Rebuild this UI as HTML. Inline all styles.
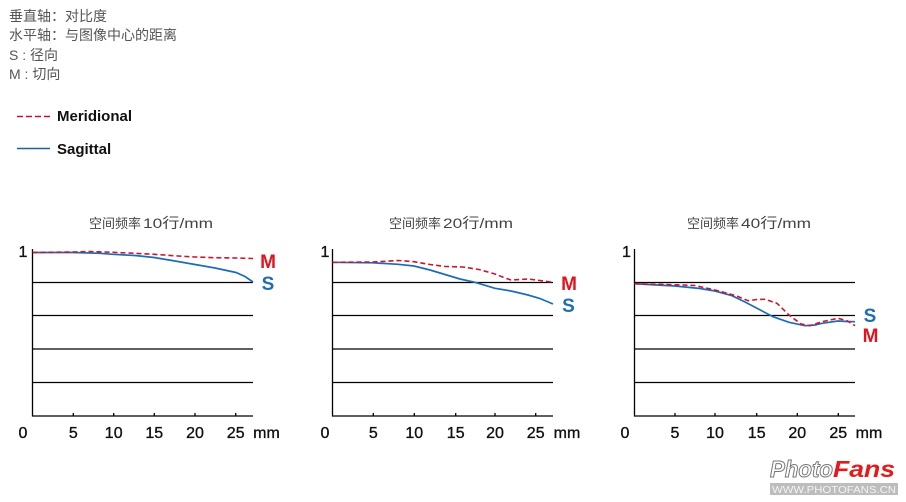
<!DOCTYPE html>
<html><head><meta charset="utf-8"><style>
html,body{margin:0;padding:0;background:#fff;}
svg{display:block;}
.cjk{font-family:"Liberation Sans","Noto Sans CJK SC",sans-serif;}
</style></head><body>
<svg width="906" height="502" viewBox="0 0 906 502" xmlns="http://www.w3.org/2000/svg">
<rect width="906" height="502" fill="#fff"/>
<g class="cjk" font-size="14" fill="#555">
<text x="9" y="21">垂直轴：对比度</text>
<text x="9" y="40">水平轴：与图像中心的距离</text>
<text x="9" y="60">S : 径向</text>
<text x="9" y="79">M : 切向</text>
</g>
<line x1="17" y1="116.5" x2="51" y2="116.5" stroke="#c8102e" stroke-width="1.6" stroke-dasharray="6,3"/>
<text x="57" y="121" font-family="Liberation Sans, sans-serif" font-weight="bold" font-size="15" fill="#111">Meridional</text>
<line x1="17" y1="148.5" x2="50" y2="148.5" stroke="#1a64a4" stroke-width="1.6"/>
<text x="57" y="154" font-family="Liberation Sans, sans-serif" font-weight="bold" font-size="15" fill="#111">Sagittal</text>

<!-- Chart 1 -->
<g>
<text class="cjk" x="89" y="228" font-size="13" fill="#444">空间频率</text>
<text class="cjk" x="143" y="228" font-size="14" fill="#444" textLength="70" lengthAdjust="spacingAndGlyphs">10行/mm</text>
<g stroke="#000" stroke-width="1.3" fill="none">
<line x1="32.5" y1="249" x2="32.5" y2="416.5"/>
<line x1="32" y1="416" x2="253" y2="416"/>
<line x1="32.5" y1="282.5" x2="253" y2="282.5"/>
<line x1="32.5" y1="315.5" x2="253" y2="315.5"/>
<line x1="32.5" y1="349" x2="253" y2="349"/>
<line x1="32.5" y1="382.5" x2="253" y2="382.5"/>
<line x1="73.3" y1="413" x2="73.3" y2="416"/>
<line x1="113.7" y1="413" x2="113.7" y2="416"/>
<line x1="154.3" y1="413" x2="154.3" y2="416"/>
<line x1="195" y1="413" x2="195" y2="416"/>
<line x1="235.7" y1="413" x2="235.7" y2="416"/>
</g>
<polyline fill="none" stroke="#1d6db6" stroke-width="1.7" points="32.5,252.5 73,252.5 100,253.3 113,254.3 135,255.5 154,257.5 175,261 195,264.5 215,268 236,272.5 245,276.5 253,282"/>
<polyline fill="none" stroke="#d0122c" stroke-width="1.6" stroke-dasharray="5,3" points="32.5,252.5 73,252 90,251.5 113,252.3 135,253.3 154,254.3 178,256 195,257 215,257.7 236,258 253,258.5"/>
<g font-family="Liberation Sans, sans-serif" font-size="16" fill="#111" stroke="#111" stroke-width="0.35" text-anchor="middle">
<text x="23" y="438">0</text><text x="73.3" y="438">5</text><text x="113.7" y="438">10</text><text x="154.3" y="438">15</text><text x="195" y="438">20</text><text x="235.7" y="438">25</text><text x="266.5" y="438">mm</text>
<text x="23" y="257">1</text>
</g>
<g font-family="Liberation Sans, sans-serif" font-size="19" font-weight="bold" text-anchor="middle">
<text x="268" y="268" fill="#e0141e">M</text>
<text x="268" y="290" fill="#1f6db5">S</text>
</g>
</g>

<!-- Chart 2 -->
<g>
<text class="cjk" x="389" y="228" font-size="13" fill="#444">空间频率</text>
<text class="cjk" x="443" y="228" font-size="14" fill="#444" textLength="70" lengthAdjust="spacingAndGlyphs">20行/mm</text>
<g stroke="#000" stroke-width="1.3" fill="none">
<line x1="332.5" y1="249" x2="332.5" y2="416.5"/>
<line x1="332" y1="416" x2="553" y2="416"/>
<line x1="332.5" y1="282.5" x2="553" y2="282.5"/>
<line x1="332.5" y1="315.5" x2="553" y2="315.5"/>
<line x1="332.5" y1="349" x2="553" y2="349"/>
<line x1="332.5" y1="382.5" x2="553" y2="382.5"/>
<line x1="373.3" y1="413" x2="373.3" y2="416"/>
<line x1="414.3" y1="413" x2="414.3" y2="416"/>
<line x1="455.7" y1="413" x2="455.7" y2="416"/>
<line x1="495" y1="413" x2="495" y2="416"/>
<line x1="535.7" y1="413" x2="535.7" y2="416"/>
</g>
<polyline fill="none" stroke="#1d6db6" stroke-width="1.7" points="332.5,262.3 373,262.8 398,264.3 414,266 430,270 445,274.5 460,279 475,282.3 495,288.3 511,291 528,295 540,298.5 553,304"/>
<polyline fill="none" stroke="#d0122c" stroke-width="1.6" stroke-dasharray="5,3" points="332.5,262.3 373,262 398,260.5 414,261.7 430,264.5 445,266.5 463,267 479,269.5 495,274 505,278 511,280 520,279.5 528,279 540,280.5 553,282.3"/>
<g font-family="Liberation Sans, sans-serif" font-size="16" fill="#111" stroke="#111" stroke-width="0.35" text-anchor="middle">
<text x="325" y="438">0</text><text x="373.3" y="438">5</text><text x="414.3" y="438">10</text><text x="455.7" y="438">15</text><text x="495" y="438">20</text><text x="535.7" y="438">25</text><text x="567" y="438">mm</text>
<text x="325" y="257">1</text>
</g>
<g font-family="Liberation Sans, sans-serif" font-size="19" font-weight="bold" text-anchor="middle">
<text x="569" y="290" fill="#e0141e">M</text>
<text x="568.5" y="312" fill="#1f6db5">S</text>
</g>
</g>

<!-- Chart 3 -->
<g>
<text class="cjk" x="687" y="228" font-size="13" fill="#444">空间频率</text>
<text class="cjk" x="741" y="228" font-size="14" fill="#444" textLength="70" lengthAdjust="spacingAndGlyphs">40行/mm</text>
<g stroke="#000" stroke-width="1.3" fill="none">
<line x1="634.5" y1="249" x2="634.5" y2="416.5"/>
<line x1="634" y1="416" x2="855" y2="416"/>
<line x1="634.5" y1="282.5" x2="855" y2="282.5"/>
<line x1="634.5" y1="315.5" x2="855" y2="315.5"/>
<line x1="634.5" y1="349" x2="855" y2="349"/>
<line x1="634.5" y1="382.5" x2="855" y2="382.5"/>
<line x1="675" y1="413" x2="675" y2="416"/>
<line x1="715" y1="413" x2="715" y2="416"/>
<line x1="756.7" y1="413" x2="756.7" y2="416"/>
<line x1="797.3" y1="413" x2="797.3" y2="416"/>
<line x1="838.3" y1="413" x2="838.3" y2="416"/>
</g>
<polyline fill="none" stroke="#1d6db6" stroke-width="1.7" points="634.5,283.7 675,286 700,288.5 715,291 732,295.7 745,302 757,308.3 773,316.7 789,322.3 805,325.7 815,325 822,323.3 838,321 847,321.5 855,321.7"/>
<polyline fill="none" stroke="#d0122c" stroke-width="1.6" stroke-dasharray="5,3" points="634.5,283.7 683,285 695,285.5 715,290 736,295.7 748,300.7 757,299.5 765,299.3 777,303.3 789,315 801,324 810,325.7 822,321.7 838,318.3 847,320.7 855,325.7"/>
<g font-family="Liberation Sans, sans-serif" font-size="16" fill="#111" stroke="#111" stroke-width="0.35" text-anchor="middle">
<text x="625" y="438">0</text><text x="675" y="438">5</text><text x="715" y="438">10</text><text x="756.7" y="438">15</text><text x="797.3" y="438">20</text><text x="838.3" y="438">25</text><text x="869" y="438">mm</text>
<text x="626.5" y="257">1</text>
</g>
<g font-family="Liberation Sans, sans-serif" font-size="19" font-weight="bold" text-anchor="middle">
<text x="870" y="322" fill="#1f6db5">S</text>
<text x="870.5" y="342" fill="#e0141e">M</text>
</g>
</g>

<!-- Logo -->
<g font-family="Liberation Sans, sans-serif" font-weight="bold" font-style="italic">
<text x="770" y="477" font-size="23" fill="#fff" stroke="#777" stroke-width="1" textLength="63" lengthAdjust="spacingAndGlyphs">Photo</text>
<text x="833" y="477" font-size="23" fill="#e51a1a" textLength="62" lengthAdjust="spacingAndGlyphs">Fans</text>
</g>
<rect x="770" y="483" width="128" height="12" fill="#bdbdbd"/>
<text x="772" y="493" font-family="Liberation Sans, sans-serif" font-size="10" fill="#f4f4f4" textLength="124" lengthAdjust="spacingAndGlyphs">WWW.PHOTOFANS.CN</text>
</svg>
</body></html>
